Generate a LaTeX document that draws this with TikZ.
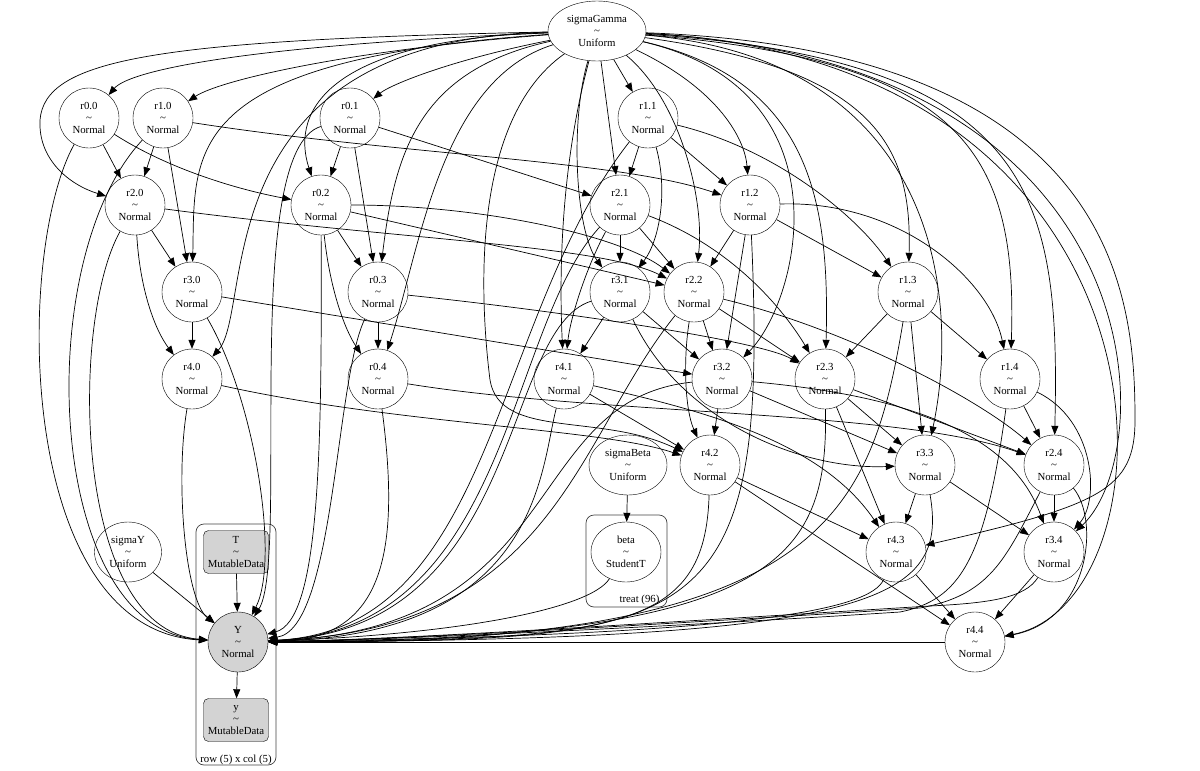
\documentclass[tikz,border=0pt]{standalone}
\usepackage{fontspec}
\setmainfont{Liberation Serif}
\usetikzlibrary{arrows.meta,shapes.geometric}
\definecolor{obsgray}{HTML}{D3D3D3}
\newcommand{\gvfont}{\fontsize{10.8}{12}\selectfont}
\tikzset{
	rv/.style={circle, draw, minimum size=60pt, inner sep=0pt, align=center, font=\gvfont},
	obsrv/.style={rv, fill=obsgray},
	hyper/.style={ellipse, draw, minimum height=60pt, inner sep=0pt, align=center, font=\gvfont},
	databox/.style={rectangle, rounded corners=5pt, draw, fill=obsgray, minimum width=65pt, minimum height=43pt, inner sep=0pt, align=center, font=\gvfont},
	edge/.style={-{Triangle[length=9pt,width=7pt]}, line width=0.7pt},
	plate/.style={draw=black!75, rounded corners=8pt, line width=0.7pt},
}
\begin{document}
\begin{tikzpicture}[x=1pt,y=-1pt]
	\useasboundingbox (0,0) rectangle (1200,771);
	
	% --- plates ---
	\draw[plate] (196,524) rectangle (276,765);
	\node[font=\gvfont, anchor=base] (lblrc) at (236,762) {row (5) x col (5)};
	\draw[plate] (586,515) rectangle (667,607);
	\node[font=\gvfont, anchor=base east] (lbltreat) at (663,602) {treat (96)};
	
	% --- hyperpriors and data ---
	\node[hyper, minimum width=98pt] (sG) at (597,31) {sigmaGamma\\\textasciitilde\\Uniform};
	\node[hyper, minimum width=78pt] (sB) at (628,465) {sigmaBeta\\\textasciitilde\\Uniform};
	\node[hyper, minimum width=67pt] (sY) at (128,552) {sigmaY\\\textasciitilde\\Uniform};
	\node[hyper, minimum width=70pt] (beta) at (626,552) {beta\\\textasciitilde\\StudentT};
	\node[databox] (T) at (236,552) {T\\\textasciitilde\\MutableData};
	\node[obsrv] (Y) at (238,642) {Y\\\textasciitilde\\Normal};
	\node[databox] (yobs) at (236,720) {y\\\textasciitilde\\MutableData};
	
	% --- random effects r(i).(j) ---
	\foreach \n/\lab/\x/\y in {r00/r0.0/89/118, r10/r1.0/163/118, r01/r0.1/350/118, r11/r1.1/648/118,
		r20/r2.0/135/205, r02/r0.2/321/205, r21/r2.1/620/205, r12/r1.2/750/205,
		r30/r3.0/192/292, r03/r0.3/378/292, r31/r3.1/620/292, r22/r2.2/694/292, r13/r1.3/908/292,
		r40/r4.0/192/379, r04/r0.4/378/379, r41/r4.1/564/379, r32/r3.2/722/379, r23/r2.3/825/379, r14/r1.4/1010/379,
		r42/r4.2/710/465, r33/r3.3/925/465, r24/r2.4/1054/465,
		r43/r4.3/896/552, r34/r3.4/1054/552, r44/r4.4/975/642}
		\node[rv] (\n) at (\x,\y) {\lab\\\textasciitilde\\Normal};
	
	% 1. sigmaGamma -> r
	\draw[edge] (sG) -- (r11);
	\draw[edge] (sG) -- (r21);
	\foreach \b/\c/\d in {r00/{250,45}/{130,70}, r10/{350,50}/{220,80},
		r30/{180,60}/{195,150}, r40/{200,40}/{255,310}, r01/{450,60}/{390,85},
		r02/{330,40}/{290,110}, r03/{420,70}/{395,150}, r04/{440,80}/{420,250},
		r31/{570,120}/{575,230}, r41/{565,150}/{558,250},
		r12/{720,90}/{745,140}, r22/{680,100}/{705,200}, r32/{850,90}/{800,300},
		r13/{880,70}/{912,150}, r23/{810,80}/{830,200}, r14/{960,60}/{1018,150},
		r33/{940,60}/{960,300}, r24/{1040,60}/{1060,200},
		r34/{1160,60}/{1162,450}, r44/{1195,60}/{1185,600}}
		\draw[edge] (sG) .. controls (\c) and (\d) .. (\b);
	\draw[edge] (sG) .. controls (150,40) and (45,60) .. (40,120) .. controls (38,160) and (70,185) .. (r20);
	\draw[edge] (sG) .. controls (470,120) and (480,300) .. (490,380) .. controls (500,440) and (600,412) .. (r42);
	\draw[edge] (sG) .. controls (1120,50) and (1135,300) .. (1135,420) .. controls (1135,490) and (1100,505) .. (r43);
	
	% 2. r -> r, straight
	\foreach \a/\b in {r00/r20, r10/r20, r10/r30, r20/r30, r30/r40,
		r01/r21, r11/r21, r21/r31, r31/r41,
		r02/r22, r12/r22, r12/r32, r22/r32, r32/r42,
		r13/r23, r13/r33, r23/r33, r23/r43, r33/r43,
		r14/r24, r24/r34, r34/r44,
		r01/r02, r01/r03, r02/r03, r03/r04,
		r11/r12, r12/r13, r13/r14,
		r21/r22, r22/r23, r23/r24,
		r30/r32, r31/r32, r32/r33, r33/r34,
		r41/r42, r42/r43, r42/r44, r43/r44}
		\draw[edge] (\a) -- (\b);
	
	% 3. r -> r, routed round other nodes
	\foreach \a/\b/\c/\d in {r00/r02/{170,170}/{240,190}, r10/r12/{400,155}/{620,160},
		r20/r22/{400,240}/{600,245}, r02/r22/{480,205}/{620,235},
		r03/r23/{550,310}/{760,340}, r04/r24/{600,415}/{900,410},
		r40/r42/{400,425}/{600,428}, r11/r13/{780,150}/{860,220},
		r12/r14/{900,200}/{990,280}, r11/r31/{668,190}/{660,240},
		r02/r04/{330,290}/{345,330}, r20/r40/{140,290}/{155,330},
		r21/r41/{585,270}/{570,320}, r22/r42/{683,360}/{685,410},
		r21/r23/{740,250}/{790,320}, r22/r24/{850,330}/{980,400},
		r31/r33/{680,420}/{800,470}, r32/r34/{900,395}/{1010,430},
		r41/r43/{700,410}/{820,440}, r14/r34/{1095,420}/{1100,500},
		r24/r44/{1100,520}/{1090,620}}
		\draw[edge] (\a) .. controls (\c) and (\d) .. (\b);
	
	% 4. everything -> Y
	\foreach \a/\c/\d in {r00/{15,250}/{15,630}, r10/{30,260}/{45,630}, r20/{70,320}/{72,630},
		r30/{255,400}/{280,560}, r40/{175,480}/{185,600},
		r01/{240,150}/{290,560}, r02/{322,450}/{320,620}, r03/{335,380}/{335,630},
		r04/{402,560}/{380,640}, r11/{490,320}/{495,630}, r21/{505,330}/{510,630},
		r31/{500,330}/{525,630}, r41/{540,470}/{540,635}, r22/{575,440}/{555,630},
		r32/{520,400}/{570,630}, r42/{705,630}/{620,640}, r12/{770,640}/{700,640},
		r13/{870,520}/{820,645}, r23/{828,560}/{780,640}, r33/{948,600}/{880,640},
		r43/{870,610}/{750,635}, beta/{590,610}/{450,635}}
		\draw[edge] (\a) .. controls (\c) and (\d) .. (Y);
	\draw[edge] (r14) .. controls (985,560) and (960,600) .. (900,612) .. controls (700,625) and (400,640) .. (Y);
	\draw[edge] (r24) .. controls (1005,560) and (990,595) .. (920,608) .. controls (700,622) and (400,640) .. (Y);
	\draw[edge] (r34) .. controls (1025,598) and (990,603) .. (930,606) .. controls (700,620) and (400,640) .. (Y);
	\draw[edge] (r44) -- (Y);
	\draw[edge] (sY) -- (Y);
	\draw[edge] (T) -- (Y);
	\draw[edge] (Y) -- (yobs);
	\draw[edge] (sB) -- (beta);
\end{tikzpicture}
\end{document}
